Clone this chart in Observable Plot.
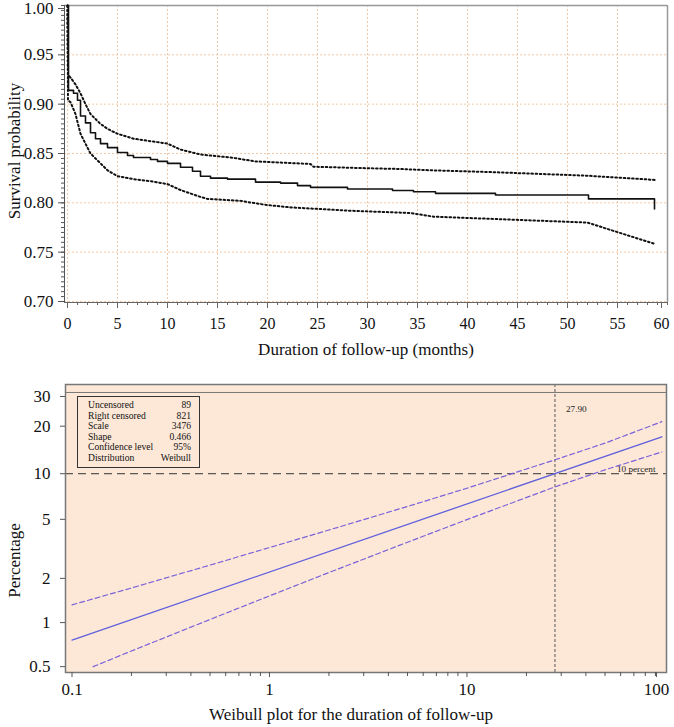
<!DOCTYPE html>
<html><head><meta charset="utf-8">
<script src="https://cdn.jsdelivr.net/npm/d3@7"></script>
<script src="https://cdn.jsdelivr.net/npm/@observablehq/plot@0.6"></script>
<style>
body{margin:0;background:#fff}
#wrap{position:relative;width:674px}
#wrap svg{display:block}
#wrap svg, #wrap svg text{font-family:"Liberation Serif",serif !important}
.legend{position:absolute;left:77px;top:396px;width:123px;height:72px;box-sizing:border-box;border:1.5px solid #333;
 font-family:"Liberation Serif",serif;font-size:9.6px;line-height:10.5px;color:#111;padding:3px 8px 0 10px}
.legend div{display:flex;justify-content:space-between}
</style>
</head><body><div id="wrap"></div>
<script>
// ---------- Top chart: Kaplan-Meier survival ----------
const kmTime = [0,0.1,0.6,1.0,1.3,1.8,2.3,2.8,3.3,4.0,5.0,6.0,6.6,8.3,9.0,10.0,11.3,12.5,13.3,14.3,16.0,18.8,21.3,23.0,24.3,28.0,32.5,34.6,36.8,42.8,52.1,58.7];
const kmSurv = [1.000,0.914,0.911,0.904,0.888,0.881,0.871,0.865,0.860,0.856,0.851,0.848,0.846,0.844,0.842,0.840,0.836,0.832,0.827,0.825,0.824,0.821,0.820,0.8175,0.8157,0.814,0.8125,0.8113,0.8096,0.808,0.804,0.7937];
const upTime = [0,0.05,0.3,0.8,1.3,1.8,2.3,3.3,4.0,5.0,6.6,8.3,10.0,11.3,13.3,16.3,18.8,24.3,24.6,30.3,33.3,36.3,42.8,52.0,58.8];
const upSurv = [1.000,0.930,0.927,0.920,0.911,0.900,0.890,0.880,0.875,0.870,0.865,0.8625,0.860,0.854,0.849,0.846,0.842,0.8394,0.8366,0.835,0.8343,0.833,0.831,0.8275,0.8232];
const loTime = [0,0.05,0.3,0.8,1.3,1.8,2.3,3.3,4.0,5.0,6.6,8.3,10.0,11.3,13.3,14.0,17.3,19.8,22.3,28.3,34.3,36.6,42.8,52.0,54.0,58.8];
const loSurv = [1.000,0.904,0.902,0.890,0.870,0.860,0.850,0.840,0.833,0.827,0.824,0.822,0.819,0.813,0.806,0.804,0.802,0.798,0.7954,0.792,0.7897,0.786,0.7836,0.780,0.7735,0.7582];
const topXTicks = [0,5,10,15,20,25,30,35,40,45,50,55,60];
const topXMinor = d3.range(0,61,1);
const topYTicks = [0.70,0.75,0.80,0.85,0.90,0.95,1.00];
const topYMinor = d3.range(0,61).map(i => 0.70 + i*0.005);

// ---------- Bottom chart: Weibull probability plot ----------
const fitTime = [0.1, 97];
const fitPct = [0.76, 17.2];
const upperBandTime = [0.1,0.2,0.5,1,2,5,10,27.9,50,97];
const upperBandPct = [1.32,1.72,2.46,3.23,4.24,6.09,8.04,12.3,15.7,21.3];
const lowerBandTime = [0.128,0.2,0.5,1,2,5,10,27.9,50,97];
const lowerBandPct = [0.50,0.64,1.05,1.52,2.19,3.51,4.98,8.2,10.6,13.8];
const botXTicks = [0.1,1,10,100];
const botXMinor = [0.2,0.3,0.4,0.5,0.6,0.7,0.8,0.9,2,3,4,5,6,7,8,9,20,30,40,50,60,70,80,90];
const botYTicks = [0.5,1,2,5,10,20,30];
const refTime = 27.9;
const refPct = 10;
const topLinePct = 31.6;
const legendLabels = ["Uncensored","Right censored","Scale","Shape","Confidence level","Distribution"];
const legendValues = ["89","821","3476","0.466","95%","Weibull"];

const W = p => Math.log(-Math.log(1 - p/100));
const font = "Liberation Serif";

const toPts = (t, v) => t.map((d,i) => ({t:d, v:v[i]}));
const grid = {stroke: "#f2c9a8", strokeOpacity: 1, strokeDasharray: "2,2"};

const kmChart = Plot.plot({
  width: 674, height: 370,
  marginLeft: 64, marginRight: 7, marginTop: 5, marginBottom: 68,
  style: {fontFamily: font, background: "white", color: "#111"},
  x: {domain: [-0.3, 60]},
  y: {domain: [0.699, 1.0]},
  marks: [
    Plot.gridX(topXTicks, grid),
    Plot.gridY(topYTicks, grid),
    Plot.ruleY([1.0], {stroke: "#999", strokeWidth: 1.5}),
    Plot.ruleX([60], {stroke: "#999", strokeWidth: 1.5}),
    Plot.ruleX([-0.3], {stroke: "#555"}),
    Plot.ruleY([0.699], {stroke: "#666"}),
    Plot.axisY(topYMinor, {tickSize: 3, tickFormat: () => "", stroke: "#555", label: null}),
    Plot.axisY(topYTicks.slice(0, -1), {tickSize: 6, tickPadding: 5, tickFormat: d3.format(".2f"), fontSize: 17, fontFamily: font, stroke: "#555", label: null}),
    Plot.axisY(topYTicks.slice(-1), {tickSize: 6, tickPadding: 5, dy: 3, tickFormat: d3.format(".2f"), fontSize: 17, fontFamily: font, stroke: "#555", label: null}),
    Plot.axisX(topXMinor, {tickSize: 3, tickFormat: () => "", stroke: "#666", label: null}),
    Plot.axisX(topXTicks.slice(0, -1), {tickSize: 6, tickPadding: 9, fontSize: 16, fontFamily: font, stroke: "#666", label: null}),
    Plot.axisX(topXTicks.slice(-1), {tickSize: 6, tickPadding: 9, dx: -6, fontSize: 16, fontFamily: font, stroke: "#666", label: null}),
    Plot.line(toPts(upTime, upSurv), {x: "t", y: "v", stroke: "#111", strokeWidth: 2, strokeDasharray: "1.6,2.6"}),
    Plot.line(toPts(loTime, loSurv), {x: "t", y: "v", stroke: "#111", strokeWidth: 2, strokeDasharray: "1.6,2.6"}),
    Plot.line(toPts(kmTime, kmSurv), {x: "t", y: "v", curve: "step-after", stroke: "#111", strokeWidth: 1.6}),
    Plot.text(["Survival probability"], {frameAnchor: "left", textAnchor: "middle", dx: -50, dy: -3, rotate: -90, fontSize: 17, fontFamily: font, fill: "#111"}),
    Plot.text(["Duration of follow-up (months)"], {frameAnchor: "bottom", dy: 52, fontSize: 17, fontFamily: font, fill: "#111"})
  ]
});

const weibullChart = Plot.plot({
  width: 674, height: 357,
  marginLeft: 65, marginRight: 8, marginTop: 14, marginBottom: 55,
  style: {fontFamily: font, background: "white", color: "#111"},
  x: {type: "log", domain: [0.0927, 102.4]},
  y: {domain: [W(0.456), W(35)]},
  marks: [
    Plot.frame({fill: "#fde8d8", stroke: "none"}),
    Plot.ruleY([W(topLinePct)], {stroke: "#777"}),
    Plot.ruleY([W(refPct)], {stroke: "#333", strokeDasharray: "8,5"}),
    Plot.ruleX([refTime], {stroke: "#555", strokeDasharray: "3,2"}),
    Plot.line(toPts(upperBandTime, upperBandPct), {x: "t", y: d => W(d.v), stroke: "#7a62d8", strokeWidth: 1.2, strokeDasharray: "5,3", clip: true}),
    Plot.line(toPts(lowerBandTime, lowerBandPct), {x: "t", y: d => W(d.v), stroke: "#7a62d8", strokeWidth: 1.2, strokeDasharray: "5,3", clip: true}),
    Plot.line(toPts(fitTime, fitPct), {x: "t", y: d => W(d.v), stroke: "#5f5fdc", strokeWidth: 1.3, clip: true}),
    Plot.frame({stroke: "#777", strokeWidth: 1.5}),
    Plot.axisY(botYTicks.map(W), {tickSize: 5, tickPadding: 10, fontSize: 17, fontFamily: font, stroke: "#555", tickFormat: (d, i) => String(botYTicks[i]), label: null}),
    Plot.axisX(botXMinor, {tickSize: 4, tickFormat: () => "", stroke: "#555", label: null}),
    Plot.axisX(botXTicks.slice(0, -1), {tickSize: 5, tickPadding: 5, fontSize: 17, fontFamily: font, stroke: "#555", tickFormat: d => String(d), label: null}),
    Plot.axisX(botXTicks.slice(-1), {tickSize: 5, tickPadding: 5, dx: -8, fontSize: 17, fontFamily: font, stroke: "#555", tickFormat: d => String(d), label: null}),
    Plot.text(["27.90"], {x: refTime, frameAnchor: "top", dy: 21, dx: 11, textAnchor: "start", fontSize: 9.2, fontFamily: font, fill: "#222"}),
    Plot.text(["10 percent"], {y: W(refPct), frameAnchor: "right", dx: -11, dy: -5, textAnchor: "end", fontSize: 9.2, fontFamily: font, fill: "#222"}),
    Plot.text(["Percentage"], {frameAnchor: "left", textAnchor: "middle", dx: -51, dy: 32, rotate: -90, fontSize: 17, fontFamily: font, fill: "#111"}),
    Plot.text(["Weibull plot for the duration of follow-up"], {frameAnchor: "bottom", dx: -15, dy: 47, fontSize: 17, fontFamily: font, fill: "#111"})
  ]
});

const wrap = document.getElementById("wrap");
wrap.appendChild(kmChart);
wrap.appendChild(weibullChart);
const lg = document.createElement("div");
lg.className = "legend";
legendLabels.forEach((l, i) => {
  const r = document.createElement("div");
  const a = document.createElement("span"); a.textContent = l;
  const b = document.createElement("span"); b.textContent = legendValues[i];
  r.appendChild(a); r.appendChild(b); lg.appendChild(r);
});
wrap.appendChild(lg);
</script>
</body></html>
